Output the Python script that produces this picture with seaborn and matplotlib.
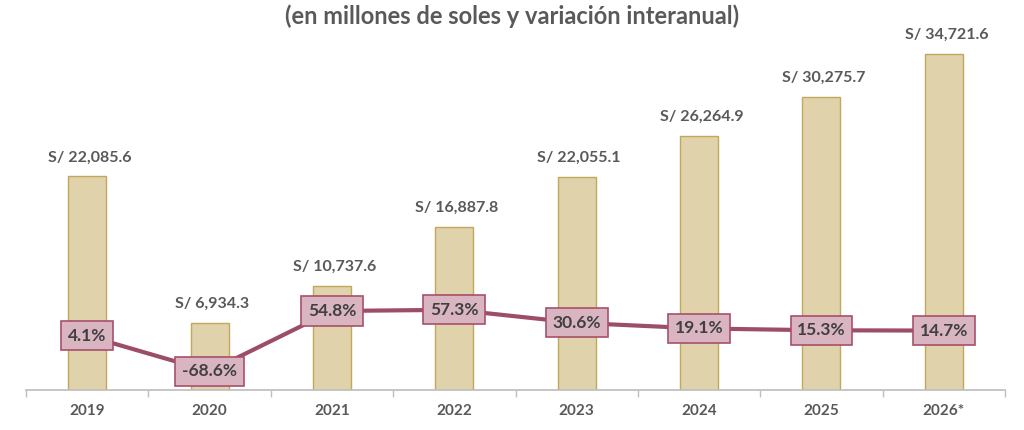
import numpy as np
import pandas as pd
import seaborn as sns
import matplotlib.pyplot as plt

sns.set_theme(style="white")
plt.rcParams['font.family'] = ['Lato', 'DejaVu Sans']

# Data
years = ["2019", "2020", "2021", "2022", "2023", "2024", "2025", "2026*"]
montos = [22085.6, 6934.3, 10737.6, 16887.8, 22055.1, 26264.9, 30275.7, 34721.6]
variacion = [4.1, -68.6, 54.8, 57.3, 30.6, 19.1, 15.3, 14.7]

d = pd.DataFrame({"anio": years, "monto": montos, "var": variacion})

gris = "#595959"
fig = plt.figure(figsize=(10.24, 4.3), dpi=100)
ax = fig.add_axes([26 / 1024, 40 / 430, 979 / 1024, 360 / 430])

sns.barplot(data=d, x="anio", y="monto", order=years, ax=ax, width=0.31,
            color="#E0D3AB", edgecolor="#C2A85A", linewidth=1.0, saturation=1)
ax.set_ylim(0, 37190)
ax.set_xlim(-0.5, 7.5)

for i, v in enumerate(montos):
    ax.annotate(f"S/ {v:,.1f}", (i + 0.02, v), xytext=(0, 8.5), textcoords="offset points",
                ha="center", va="bottom", fontsize=11.5, fontweight="bold", color=gris)

# Secondary axis for the interannual variation
ax2 = ax.twinx()
ax2.set_ylim(-106.9, 630)
sns.lineplot(x=np.arange(len(years)), y=variacion, ax=ax2, color="#9C4E66", linewidth=3)
for i, v in enumerate(variacion):
    ax2.text(i, v, f"{v:.1f}%", ha="center", va="center", fontsize=12.5,
             fontweight="bold", color="#404040",
             bbox=dict(boxstyle="square,pad=0.38", facecolor="#D9B4C1",
                       edgecolor="#A8506A", linewidth=1.2))
ax2.set_yticks([])
ax2.set_ylabel("")

# Axes styling
for a in (ax, ax2):
    for s in ["top", "right", "left", "bottom"]:
        a.spines[s].set_visible(False)
ax.spines["bottom"].set_visible(True)
ax.spines["bottom"].set_color("#BFBFBF")
ax.set_yticks([])
ax.set_ylabel("")
ax.set_xlabel("")
ax.set_xticks(np.arange(-0.5, 8, 1), minor=True)
ax.tick_params(axis="x", which="major", length=0, pad=10, labelsize=11, labelcolor=gris)
ax.tick_params(axis="x", which="minor", length=5, color="#BFBFBF", width=1, direction="out", bottom=True)
for lbl in ax.get_xticklabels():
    lbl.set_fontweight("bold")

fig.text(0.5, 0.962, "(en millones de soles y variación interanual)", ha="center", va="center",
         fontsize=17, fontweight="bold", color=gris)

fig.savefig("out.png", dpi=100)
